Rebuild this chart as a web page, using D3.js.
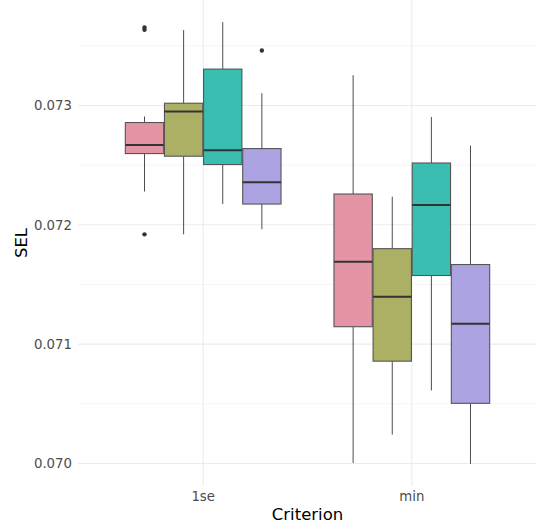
<!DOCTYPE html>
<html>
<head>
<meta charset="utf-8">
<script src="https://cdn.jsdelivr.net/npm/d3@7"></script>
<style>
  body { margin: 0; background: #fff; }
  text { font-family: "DejaVu Sans", sans-serif; }
</style>
</head>
<body>
<script>
// Data
const criteria = ['1se', 'min'];
const methods = ['a', 'b', 'c', 'd'];
const colors = ['#E495A5', '#ABB065', '#39BEB1', '#ACA4E2'];
const yTicks = [0.070, 0.071, 0.072, 0.073];

// [lower whisker, Q1, median, Q3, upper whisker] per criterion x method
const stats1se = [
    [0.072279, 0.072597, 0.072669, 0.072857, 0.072908],
    [0.071920, 0.072575, 0.072950, 0.073019, 0.073632],
    [0.072174, 0.072505, 0.072625, 0.073305, 0.073699],
    [0.071962, 0.072174, 0.072357, 0.072639, 0.073103]
];
const statsMin = [
    [0.070004, 0.071146, 0.071691, 0.072258, 0.073254],
    [0.070242, 0.070857, 0.071398, 0.071800, 0.072236],
    [0.070612, 0.071575, 0.072166, 0.072518, 0.072904],
    [0.069996, 0.070504, 0.071171, 0.071667, 0.072664]
];
const outliers1se = [[0.073654, 0.073634, 0.071920], [], [], [0.073461]];
const outliersMin = [[], [], [], []];

const W = 536, H = 529;
const margin = { top: 0, right: -1, bottom: 43, left: 78 };
const width = W - margin.left - margin.right;
const height = H - margin.top - margin.bottom;

const svg = d3.select('body').append('svg')
    .attr('width', W)
    .attr('height', H);

const g = svg.append('g')
    .attr('transform', `translate(${margin.left}, ${margin.top})`);

// scales (ggplot-like expansion)
const x = d3.scaleBand()
    .domain(criteria)
    .range([0, width])
    .paddingOuter(0.1)
    .paddingInner(0);
const step = x.bandwidth();

const allVals = [].concat(...stats1se, ...statsMin, ...outliers1se);
const lo = d3.min(allVals), hi = d3.max(allVals);
const pad = (hi - lo) * 0.05;
const y = d3.scaleLinear()
    .domain([lo - pad, hi + pad])
    .range([height, 0]);

// grid lines
const minor = d3.range(0, yTicks.length - 1).map(i => (yTicks[i] + yTicks[i + 1]) / 2);
minor.push(yTicks[yTicks.length - 1] + 0.0005);
g.selectAll('.minor')
    .data(minor)
    .enter().append('line')
    .attr('x1', 0).attr('x2', width)
    .attr('y1', d => y(d)).attr('y2', d => y(d))
    .attr('stroke', '#F3F3F3').attr('stroke-width', 0.8);
g.selectAll('.major')
    .data(yTicks)
    .enter().append('line')
    .attr('x1', 0).attr('x2', width)
    .attr('y1', d => y(d)).attr('y2', d => y(d))
    .attr('stroke', '#EBEBEB').attr('stroke-width', 1.1);
g.selectAll('.vmajor')
    .data(criteria)
    .enter().append('line')
    .attr('x1', d => x(d) + step / 2).attr('x2', d => x(d) + step / 2)
    .attr('y1', 0).attr('y2', height)
    .attr('stroke', '#EBEBEB').attr('stroke-width', 1.1);

// axis labels
const yAxis = d3.axisLeft(y).tickValues(yTicks).tickFormat(d3.format('.3f')).tickSize(0).tickPadding(6);
const ya = g.append('g').call(yAxis);
ya.select('.domain').remove();
ya.selectAll('text').attr('fill', '#4D4D4D').style('font-size', '13.3px');

const xAxis = d3.axisBottom(x).tickSize(0).tickPadding(6);
const xa = g.append('g').attr('transform', `translate(0, ${height})`).call(xAxis);
xa.select('.domain').remove();
xa.selectAll('text').attr('fill', '#4D4D4D').style('font-size', '13.3px');

svg.append('text')
    .attr('x', margin.left + width / 2)
    .attr('y', H - 9)
    .attr('text-anchor', 'middle')
    .style('font-size', '16.5px')
    .text('Criterion');

svg.append('text')
    .attr('transform', `translate(27, ${height / 2}) rotate(-90)`)
    .attr('text-anchor', 'middle')
    .style('font-size', '16.5px')
    .text('SEL');

// boxes
const dodge = d3.scaleBand()
    .domain(methods)
    .range([-0.375 * step, 0.375 * step]);
const bw = dodge.bandwidth() * 0.98;

const boxData = [];
criteria.forEach((c, ci) => {
    const st = ci === 0 ? stats1se : statsMin;
    const out = ci === 0 ? outliers1se : outliersMin;
    methods.forEach((m, mi) => {
        boxData.push({ c, m, mi, s: st[mi], out: out[mi] });
    });
});

const box = g.selectAll('.box')
    .data(boxData)
    .enter().append('g')
    .attr('transform', d => `translate(${x(d.c) + step / 2 + dodge(d.m) + dodge.bandwidth() / 2}, 0)`);

box.append('line')
    .attr('x1', 0).attr('x2', 0)
    .attr('y1', d => y(d.s[4])).attr('y2', d => y(d.s[3]))
    .attr('stroke', '#4D4D4D').attr('stroke-width', 1);
box.append('line')
    .attr('x1', 0).attr('x2', 0)
    .attr('y1', d => y(d.s[1])).attr('y2', d => y(d.s[0]))
    .attr('stroke', '#4D4D4D').attr('stroke-width', 1);
box.append('rect')
    .attr('x', -bw / 2)
    .attr('width', bw)
    .attr('y', d => y(d.s[3]))
    .attr('height', d => y(d.s[1]) - y(d.s[3]))
    .attr('fill', d => colors[d.mi])
    .attr('stroke', '#555555').attr('stroke-width', 1.1);
box.append('line')
    .attr('x1', -bw / 2).attr('x2', bw / 2)
    .attr('y1', d => y(d.s[2])).attr('y2', d => y(d.s[2]))
    .attr('stroke', '#333333').attr('stroke-width', 2);
box.selectAll('circle')
    .data(d => d.out)
    .enter().append('circle')
    .attr('cx', 0)
    .attr('cy', d => y(d))
    .attr('r', 2.2)
    .attr('fill', '#333333');
</script>
</body>
</html>
